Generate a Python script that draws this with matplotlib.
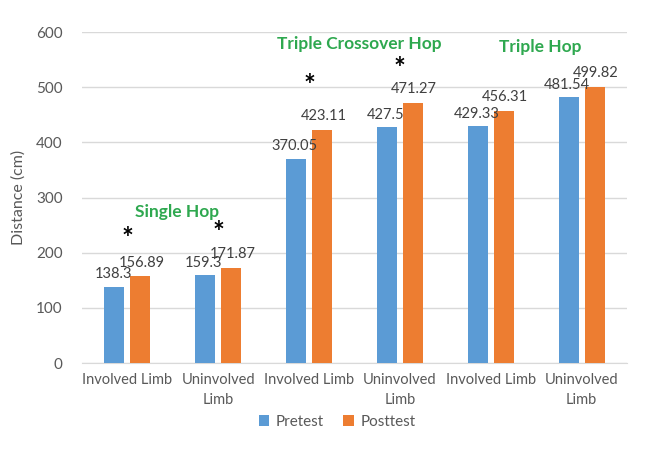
import numpy as np
import matplotlib
matplotlib.use('Agg')
import matplotlib.pyplot as plt

# data
categories = ['Involved Limb', 'Uninvolved\nLimb', 'Involved Limb',
              'Uninvolved\nLimb', 'Involved Limb', 'Uninvolved\nLimb']
pretest = [138.3, 159.3, 370.05, 427.5, 429.33, 481.54]
posttest = [156.89, 171.87, 423.11, 471.27, 456.31, 499.82]
pre_labels = ['138.3', '159.3', '370.05', '427.5', '429.33', '481.54']
post_labels = ['156.89', '171.87', '423.11', '471.27', '456.31', '499.82']
groups = ['Single Hop', 'Triple Crossover Hop', 'Triple Hop']
group_y = [274, 578, 573]
star_idx = [0, 1, 2, 3]
star_y = [225, 236, 502, 533]

blue = '#5B9BD5'
orange = '#ED7D31'
grey = '#595959'
green = '#2EA84F'

plt.rcParams['font.family'] = ['Lato', 'DejaVu Sans']

fig = plt.figure(figsize=(6.48, 4.54), dpi=100)
ax = fig.add_axes([0.1265, 0.2004, 0.8411, 0.7291])

x = np.arange(len(categories))
w = 0.22
off = 0.143
b1 = ax.bar(x - off, pretest, w, color=blue, label='Pretest', zorder=3)
b2 = ax.bar(x + off, posttest, w, color=orange, label='Posttest', zorder=3)

# value labels (they crowd each other in the original too)
for xi, v, s in zip(x, pretest, pre_labels):
    ax.annotate(s, (xi - off, v), xytext=(-1, 4), textcoords='offset points',
                ha='center', va='bottom', fontsize=10.5, color='#404040')
for xi, v, s in zip(x, posttest, post_labels):
    ax.annotate(s, (xi + off, v), xytext=(1, 5), textcoords='offset points',
                ha='center', va='bottom', fontsize=10.5, color='#404040')

# asterisks for significant changes
for i, yv in zip(star_idx, star_y):
    ax.text(x[i], yv, '*', ha='center', va='center', fontsize=20,
            fontweight='bold', color='black')

# hop titles, centred over each pair of categories
for g, (name, yv) in enumerate(zip(groups, group_y)):
    ax.text(2 * g + 0.5 + 0.05, yv, name, ha='center', va='center',
            fontsize=12.5, fontweight='bold', color=green)

ax.set_xlim(-0.5, len(categories) - 0.5)
ax.set_ylim(0, 600)
ax.set_yticks(np.arange(0, 601, 100))
ax.set_xticks(x)
ax.set_xticklabels(categories, fontsize=10.5, color=grey, linespacing=1.6)
ax.tick_params(axis='y', labelsize=11, labelcolor=grey, length=0, pad=14)
ax.tick_params(axis='x', length=0, pad=7)
ax.grid(axis='y', color='#D9D9D9', linewidth=1, zorder=0)
for s in ['top', 'right', 'left']:
    ax.spines[s].set_visible(False)
ax.spines['bottom'].set_color('#D9D9D9')
ax.set_ylabel('Distance (cm)', fontsize=11.5, color=grey, labelpad=7)

ax.legend(loc='center', bbox_to_anchor=(0.52, 1 - 422 / 454), bbox_transform=fig.transFigure,
          ncol=2, frameon=False, fontsize=11, labelcolor=grey,
          handlelength=0.7, handleheight=0.7, handletextpad=0.4, columnspacing=1.3)

fig.savefig('out.png', dpi=100)
